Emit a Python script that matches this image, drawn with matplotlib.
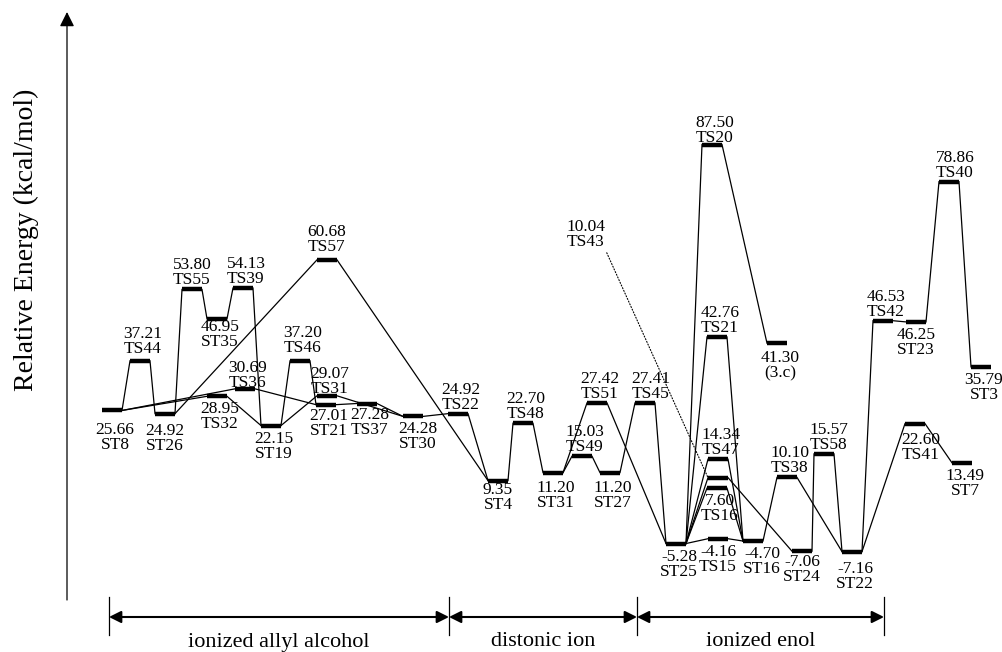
import matplotlib.pyplot as plt
from matplotlib.transforms import blended_transform_factory

plt.rcParams['font.family'] = ['Liberation Serif', 'DejaVu Serif']

# stationary points / transition states (kcal/mol)
names = ['ST8', 'TS44', 'ST26', 'TS55', 'ST35', 'TS39', 'TS32', 'TS36', 'ST19', 'TS46',
         'TS57', 'TS31', 'ST21', 'TS37', 'ST30', 'TS22', 'ST4', 'TS48', 'ST31', 'TS49',
         'ST27', 'TS51', 'TS45', 'ST25', 'TS20', '(3.c)', 'TS21', 'TS47', 'TS43', 'TS16',
         'TS15', 'ST16', 'TS38', 'ST24', 'TS58', 'ST22', 'TS42', 'ST23', 'TS40', 'ST3',
         'TS41', 'ST7']
energies = [25.66, 37.21, 24.92, 53.80, 46.95, 54.13, 28.95, 30.69, 22.15, 37.20,
            60.68, 29.07, 27.01, 27.28, 24.28, 24.92, 9.35, 22.70, 11.20, 15.03,
            11.20, 27.42, 27.41, -5.28, 87.50, 41.30, 42.76, 14.34, 10.04, 7.60,
            -4.16, -4.70, 10.10, -7.06, 15.57, -7.16, 46.53, 46.25, 78.86, 35.79,
            22.60, 13.49]
# horizontal slot of each level (bar centre)
xpos = [112, 140, 165, 192, 217, 243, 217, 245, 271, 300,
        327, 327, 326, 367, 413, 458, 498, 523, 553, 582,
        610, 597, 645, 676, 712, 777, 717, 718, 718, 717,
        718, 753, 787, 802, 824, 852, 883, 916, 949, 981,
        915, 962]

# levels whose label sits under the bar
below = {'ST8', 'ST26', 'ST35', 'TS32', 'ST19', 'ST21', 'TS37', 'ST30', 'ST4', 'ST31',
         'ST27', 'ST25', '(3.c)', 'TS16', 'TS15', 'ST16', 'ST24', 'ST22', 'ST23', 'ST3',
         'TS41', 'ST7'}

# reaction paths
links = [('ST8', 'TS44'), ('TS44', 'ST26'), ('ST26', 'TS55'), ('TS55', 'ST35'),
         ('ST35', 'TS39'), ('TS39', 'ST19'), ('ST26', 'TS57'), ('TS57', 'ST4'),
         ('ST8', 'TS32'), ('ST8', 'TS36'), ('TS32', 'ST19'), ('TS36', 'ST21'),
         ('ST19', 'TS31'), ('ST19', 'TS46'), ('TS46', 'ST21'), ('TS31', 'ST30'),
         ('ST21', 'TS37'), ('TS37', 'ST30'), ('ST30', 'TS22'), ('TS22', 'ST4'),
         ('ST4', 'TS48'), ('TS48', 'ST31'), ('ST31', 'TS49'), ('TS49', 'ST27'),
         ('ST31', 'TS51'), ('TS51', 'ST25'), ('ST27', 'TS45'), ('TS45', 'ST25'),
         ('ST25', 'TS20'), ('TS20', '(3.c)'), ('ST25', 'TS21'), ('TS21', 'ST16'),
         ('ST25', 'TS47'), ('TS47', 'ST16'), ('ST25', 'TS43'), ('TS43', 'ST24'),
         ('ST25', 'TS16'), ('TS16', 'ST16'), ('ST25', 'TS15'), ('TS15', 'ST16'),
         ('ST16', 'TS38'), ('TS38', 'ST22'), ('ST24', 'TS58'), ('TS58', 'ST22'),
         ('ST22', 'TS42'), ('TS42', 'ST23'), ('ST23', 'TS40'), ('TS40', 'ST3'),
         ('ST22', 'TS41'), ('TS41', 'ST7')]

regions = ['ionized allyl alcohol', 'distonic ion', 'ionized enol']
region_edges = [109, 449, 637, 884]

# label nudges in pixels
label_dx = {'ST16': 9, 'TS45': 6, 'TS40': 6, 'TS41': 6, 'ST30': 5, 'TS58': 5,
            'TS55': 0, 'ST26': 0, 'TS57': 0, 'ST4': 0, 'ST24': 0, 'ST23': 0, 'TS15': 0}
label_dy = {'ST8': 24, 'ST26': 21, 'ST35': 12, 'ST4': 13, 'ST22': 21, 'TS41': 20,
            'TS44': 8, 'TS36': 2, 'TS31': 3, 'TS46': 9, 'TS57': 9, 'TS20': 3,
            'ST21': 15, 'TS37': 15, 'ST24': 15, 'ST31': 19, 'ST27': 19, '(3.c)': 19}

W, H = 1002, 652
fig = plt.figure(figsize=(W / 100, H / 100), dpi=100)
ax = fig.add_axes([0, 0, 1, 1])
ax.set_xlim(0, W)
ax.set_ylim(-30.5, 121.1)
ax.axis('off')
pix = blended_transform_factory(ax.transData, ax.transAxes)


def py(v):
    return 1 - v / H


level = {n: (x, e) for n, x, e in zip(names, xpos, energies)}
half = 10

for a, b in links:
    xa, ea = level[a]
    xb, eb = level[b]
    ax.plot([xa + half, xb - half], [ea, eb], color='black', lw=0.9)

for n, x, e in zip(names, xpos, energies):
    ax.plot([x - half, x + half], [e, e], color='black', lw=3.2, solid_capstyle='butt')
    if n == 'TS43':
        continue
    dx = label_dx.get(n, 3)
    if n in below:
        dy = label_dy.get(n, 17)
        y1, y2 = -dy, -dy - 15
    else:
        dy = label_dy.get(n, 5)
        y1, y2 = dy + 15, dy
    ax.annotate(f'{e:.2f}', (x, e), xytext=(dx, y1), textcoords='offset pixels',
                ha='center', va='baseline', fontsize=12.5)
    ax.annotate(n, (x, e), xytext=(dx, y2), textcoords='offset pixels',
                ha='center', va='baseline', fontsize=12.5)

# TS43 labelled off to the side with a dotted leader
x43, e43 = level['TS43']
ax.annotate(f'{e43:.2f}\nTS43', xy=(x43 - half, e43), xytext=(586, py(246)),
            textcoords=pix, ha='center', va='baseline', fontsize=12.5, linespacing=0.9,
            arrowprops=dict(arrowstyle='-', linestyle=':', lw=0.8, color='black',
                            relpos=(1, 0), shrinkA=0, shrinkB=0))

# energy axis
ax.annotate('', xy=(67, py(12)), xytext=(67, py(600)), xycoords=pix, textcoords=pix,
            arrowprops=dict(arrowstyle='-|>', lw=0.9, color='black', mutation_scale=22,
                            shrinkA=0, shrinkB=0))
fig.text(26 / W, py(240), 'Relative Energy (kcal/mol)', rotation=90,
         ha='center', va='center', fontsize=20)

# region brackets
for x in region_edges:
    ax.plot([x, x], [py(597), py(635)], transform=pix, color='black', lw=0.9)
for label, x0, x1 in zip(regions, region_edges[:-1], region_edges[1:]):
    ax.annotate('', xy=(x1, py(617)), xytext=(x0, py(617)), xycoords=pix, textcoords=pix,
                arrowprops=dict(arrowstyle='<|-|>', lw=1.5, color='black',
                                mutation_scale=18, shrinkA=0, shrinkB=0))
    ax.text((x0 + x1) / 2, py(642), label, transform=pix, ha='center', va='center',
            fontsize=16)

fig.savefig('out.png', dpi=100)
